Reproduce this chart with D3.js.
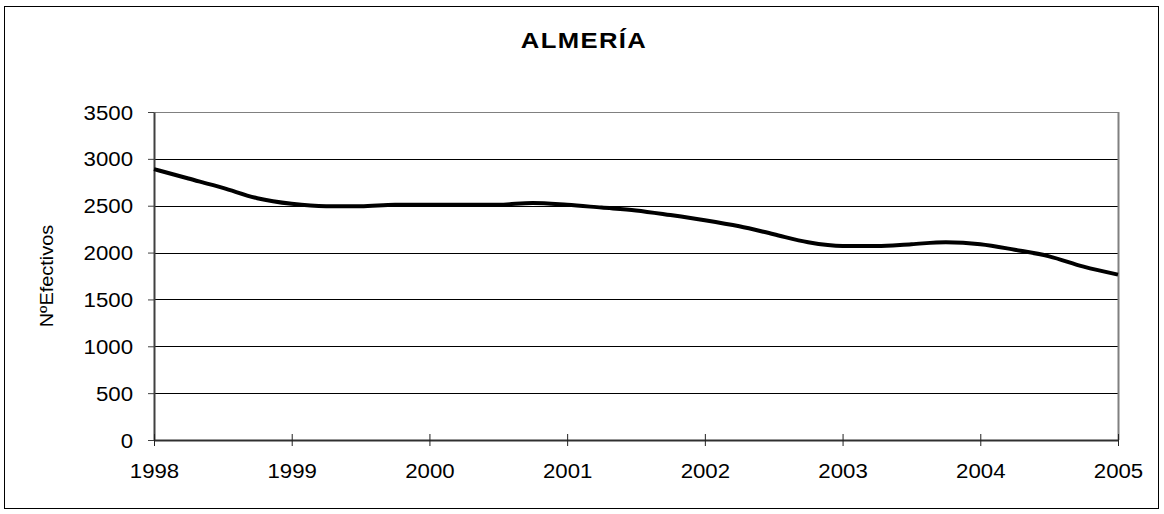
<!DOCTYPE html>
<html><head><meta charset="utf-8">
<script src="https://cdn.jsdelivr.net/npm/d3@7"></script>
<style>body{margin:0;background:#fff;} text{font-family:"Liberation Sans",Arial,sans-serif;fill:#000;}</style>
</head><body>
<svg id="c" width="1164" height="514"></svg>
<script>
const title = "ALMERÍA";
const yLabel = "NºEfectivos";
const yearTicks = [1998,1999,2000,2001,2002,2003,2004,2005];
const yTicks = [0,500,1000,1500,2000,2500,3000,3500];
// quarterly observations, 1998.00 .. 2005.00
const periods = [1998,1998.25,1998.5,1998.75,1999,1999.25,1999.5,1999.75,2000,2000.25,2000.5,2000.75,2001,2001.25,2001.5,2001.75,2002,2002.25,2002.5,2002.75,2003,2003.25,2003.5,2003.75,2004,2004.25,2004.5,2004.75,2005];
const values = [2890,2790,2690,2580,2520,2495,2495,2510,2510,2510,2510,2530,2510,2480,2450,2400,2345,2280,2195,2110,2070,2070,2090,2110,2090,2030,1960,1850,1765];

const SX = 1.14;
const svg = d3.select("#c");
const L=154, R=1118, T=112, B=440;
const x = d3.scaleLinear().domain([1998,2005]).range([L,R]);
const y = d3.scaleLinear().domain([0,3500]).range([B,T]);

svg.append("rect").attr("x",4.5).attr("y",6.5).attr("width",1154).attr("height",502)
  .attr("fill","none").attr("stroke","#000").attr("stroke-width",1);

svg.append("text").attr("transform",`translate(584,48) scale(${SX},1)`)
  .attr("text-anchor","middle").attr("font-weight","bold").attr("font-size",22.5)
  .attr("letter-spacing",1.2).text(title);

// gridlines
svg.append("g").selectAll("line").data(yTicks.filter(d=>d>0)).join("line")
  .attr("x1",L).attr("x2",R).attr("y1",d=>Math.round(y(d))+0.5).attr("y2",d=>Math.round(y(d))+0.5)
  .attr("stroke",d=>d===3500?"#808080":"#000").attr("stroke-width",1);
// right border
svg.append("line").attr("x1",R+0.5).attr("x2",R+0.5).attr("y1",T).attr("y2",B).attr("stroke","#808080").attr("stroke-width",2);

// y axis
const ya = svg.append("g").attr("transform",`translate(${L},0)`)
  .call(d3.axisLeft(y).tickValues(yTicks).tickFormat(d3.format("d")).tickSize(6).tickSizeOuter(0).tickPadding(0));
ya.select(".domain").attr("stroke","#404040").attr("stroke-width",2);
ya.selectAll(".tick line").attr("stroke","#404040");
ya.selectAll(".tick text").attr("font-size",19.5).attr("font-family","Liberation Sans, Arial, sans-serif")
  .attr("x",-21/SX).attr("dy","0.36em").attr("transform",`scale(${SX},1)`);

// x axis
const xa = svg.append("g").attr("transform",`translate(0,${B})`)
  .call(d3.axisBottom(x).tickValues(yearTicks).tickFormat(d3.format("d")).tickSizeInner(6).tickSizeOuter(0).tickPadding(0));
xa.select(".domain").attr("stroke","#303030").attr("stroke-width",2);
xa.selectAll(".tick line").attr("stroke","#202020").attr("y1",-6).attr("y2",6);
xa.selectAll(".tick").each(function(d){
  d3.select(this).select("text").attr("font-size",19.5).attr("font-family","Liberation Sans, Arial, sans-serif")
   .attr("y",null).attr("dy",null).attr("x",0)
   .attr("transform",`translate(0,37.7) scale(${SX},1)`);
});

// y label
svg.append("text").attr("transform",`translate(53,276) rotate(-90) scale(${SX},1)`)
  .attr("text-anchor","middle").attr("font-size",17.5).text(yLabel);

// line
const line = d3.line().x((d,i)=>x(periods[i])).y(d=>y(d)).curve(d3.curveMonotoneX);
svg.append("path").datum(values).attr("d",line).attr("fill","none")
  .attr("stroke","#000").attr("stroke-width",4).attr("stroke-linejoin","round");
</script>
</body></html>
